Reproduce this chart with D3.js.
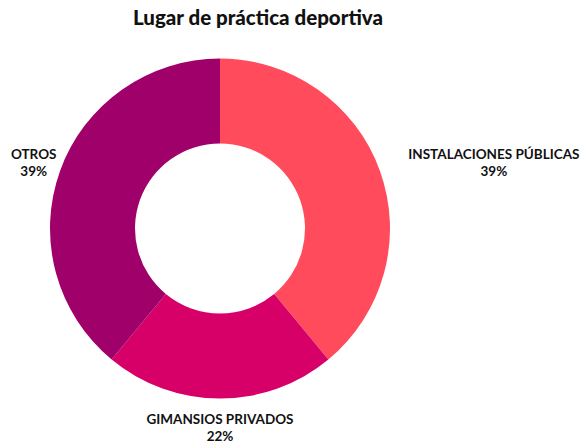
<!DOCTYPE html>
<html>
<head>
  <meta charset="utf-8">
  <script src="https://d3js.org/d3.v7.min.js"></script>
  <style>
    body { margin: 0; background: #fff; }
    svg text { font-family: Lato, "Open Sans", sans-serif; font-weight: 700; fill: #111; }
    .title { font-size: 20.5px; font-weight: 900; }
    .label { font-size: 13.5px; }
  </style>
</head>
<body>
  <svg id="chart" width="583" height="441"></svg>
  <script>
    // datos
    const categories = ["INSTALACIONES PÚBLICAS", "GIMANSIOS PRIVADOS", "OTROS"];
    const values = [39, 22, 39];
    const colors = ["#ff4b5c", "#d60068", "#a0006a"];

    const svg = d3.select("#chart");
    const cx = 220, cy = 228.5;
    const outerR = 170, innerR = 85, labelR = 198;

    svg.append("text")
      .attr("class", "title")
      .attr("x", 258)
      .attr("y", 25)
      .attr("text-anchor", "middle")
      .text("Lugar de práctica deportiva");

    const pie = d3.pie().sort(null).value(d => d)(values);
    const arc = d3.arc().innerRadius(innerR).outerRadius(outerR);
    const labelArc = d3.arc().innerRadius(labelR).outerRadius(labelR);

    const g = svg.append("g").attr("transform", `translate(${cx},${cy})`);

    g.selectAll("path.slice")
      .data(pie)
      .join("path")
      .attr("class", "slice")
      .attr("d", arc)
      .attr("fill", (d, i) => colors[i]);

    // etiquetas: bloque centrado; a la derecha el bloque empieza en el punto
    const labels = g.selectAll("text.label")
      .data(pie)
      .join("text")
      .attr("class", "label")
      .attr("text-anchor", "middle")
      .attr("transform", d => {
        const [x, y] = labelArc.centroid(d);
        return `translate(${x},${y - 2.5})`;
      });

    labels.append("tspan")
      .attr("x", 0).attr("y", 0)
      .text((d, i) => categories[i]);
    labels.append("tspan")
      .attr("x", 0).attr("y", 17)
      .text(d => d.value + "%");

    labels.each(function (d) {
      if (labelArc.centroid(d)[0] > 100) {
        const w = d3.max(d3.select(this).selectAll("tspan").nodes(), n => n.getComputedTextLength());
        d3.select(this).selectAll("tspan").attr("x", w / 2 + 2);
      }
    });
  </script>
</body>
</html>
